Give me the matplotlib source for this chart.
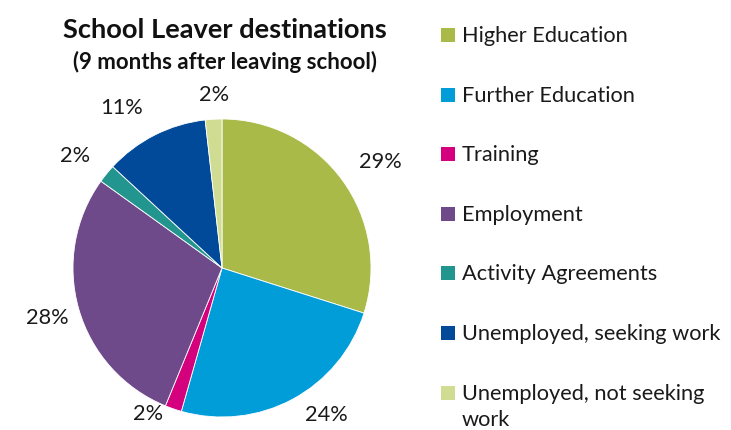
import numpy as np
import matplotlib.pyplot as plt
from matplotlib.patches import Rectangle

categories = ['Higher Education', 'Further Education', 'Training', 'Employment',
              'Activity Agreements', 'Unemployed, seeking work',
              'Unemployed, not seeking\nwork']
shares = [29.9, 24.5, 1.8, 28.7, 2.0, 11.3, 1.8]
pct_labels = ['29%', '24%', '2%', '28%', '2%', '11%', '2%']
colors = ['#A9BA48', '#009DD9', '#D4007D', '#6F4A8B', '#23958F', '#004A99', '#CFDC92']

# label placement tweaks (radial distance, angle nudge in degrees), Excel "best fit" look
label_dist = [1.28, 1.21, 1.10, 1.22, 1.24, 1.27, 1.16]
label_nudge = [-2.5, 7, -7.6, 0, 1.8, 5.3, -0.6]

plt.rcParams['font.family'] = ['Lato', 'DejaVu Sans']

fig = plt.figure(figsize=(7.31, 4.30), dpi=100)

# pie centred at about (222, 268) px, radius ~149 px
cx, cy = 222 / 731, 1 - 268 / 430
rw, rh = 149 / 731, 149 / 430
ax = fig.add_axes([cx - rw, cy - rh, 2 * rw, 2 * rh])

wedges, _ = ax.pie(shares, colors=colors, startangle=90, counterclock=False,
                   wedgeprops=dict(edgecolor='white', linewidth=0.6))
for w, lab, d, n in zip(wedges, pct_labels, label_dist, label_nudge):
    ang = np.deg2rad((w.theta1 + w.theta2) / 2 + n)
    ax.text(d * np.cos(ang), d * np.sin(ang), lab, ha='center', va='center',
            fontsize=15.7, color='#1a1a1a', clip_on=False)
ax.set_xlim(-1, 1)
ax.set_ylim(-1, 1)
ax.set_aspect('equal')

fig.text(225 / 731, 1 - 30 / 430, 'School Leaver destinations', ha='center', va='center',
         fontsize=19.6, fontweight='bold', color='#111111')
fig.text(225 / 731, 1 - 62 / 430, '(9 months after leaving school)', ha='center', va='center',
         fontsize=16, fontweight='bold', color='#111111')

# legend drawn by hand, one entry every ~59.6 px
for i, (name, col) in enumerate(zip(categories, colors)):
    y = 35 + i * 59.6
    fig.patches.append(Rectangle((441 / 731, 1 - (y + 7) / 430), 14 / 731, 14 / 430,
                                 transform=fig.transFigure, facecolor=col, edgecolor='none'))
    fig.text(462 / 731, 1 - (y - 9) / 430, name, ha='left', va='top', fontsize=15.7,
             color='#1a1a1a', linespacing=1.4)

fig.savefig('out.png', dpi=100)
